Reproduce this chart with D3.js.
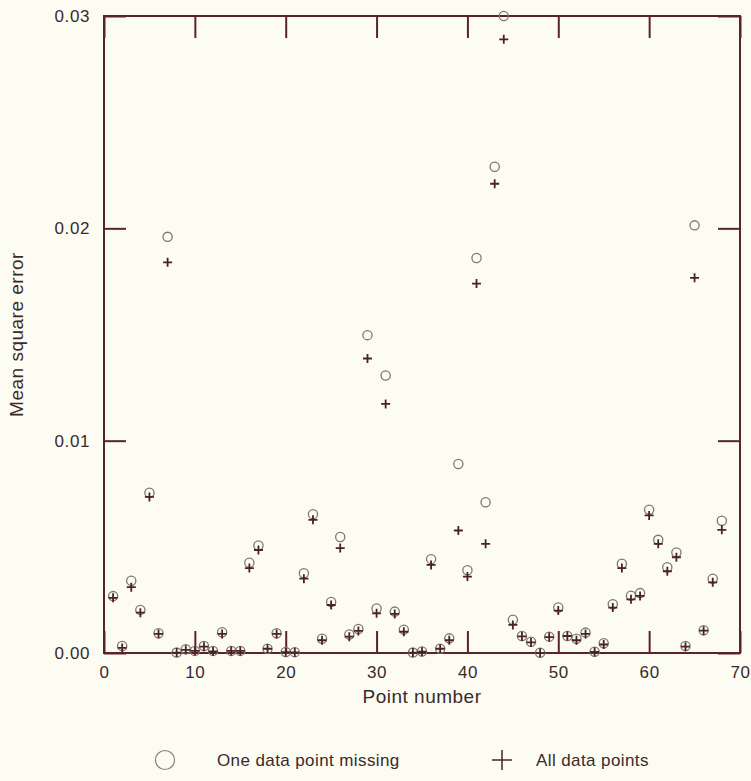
<!DOCTYPE html>
<html>
<head>
<meta charset="utf-8">
<script src="https://cdn.jsdelivr.net/npm/d3@7"></script>
<style>
  body { margin: 0; background: #fcfcf3; }
  svg { display: block; }
  text { font-family: "Liberation Sans", Arial, sans-serif; fill: #3a2a2a; }
</style>
</head>
<body>
<svg id="chart" width="751" height="781"></svg>
<script>
// point numbers 1..68
var pointNumber = d3.range(1, 69);

// mean square error with one data point missing (circles)
var oneMissing = [
  0.00268, 0.00033, 0.0034, 0.00203, 0.00755, 0.00093, 0.0196, 0.00002, 0.00018, 0.0001,
  0.00033, 0.0001, 0.00098, 0.0001, 0.0001, 0.00425, 0.00506, 0.0002, 0.00093, 0.00005,
  0.00004, 0.00376, 0.00654, 0.00067, 0.0024, 0.00546, 0.00087, 0.00113, 0.01497, 0.0021,
  0.01307, 0.00195, 0.0011, 0.00002, 0.00007, 0.00442, 0.0002, 0.00069, 0.0089, 0.0039,
  0.0186, 0.0071, 0.0229, 0.0300, 0.00157, 0.0008, 0.00053, 0.00001, 0.00077, 0.00214,
  0.0008, 0.00067, 0.00096, 0.00006, 0.00046, 0.0023, 0.0042, 0.0027, 0.00282, 0.00675,
  0.00533, 0.00404, 0.00473, 0.00033, 0.02014, 0.00107, 0.0035, 0.00623
];

// mean square error with all data points (crosses)
var allPoints = [
  0.0026, 0.00024, 0.0031, 0.0019, 0.00735, 0.0009, 0.0184, 0.00002, 0.00015, 0.0001,
  0.0003, 0.00008, 0.0009, 0.0001, 0.0001, 0.004, 0.00485, 0.0002, 0.0009, 0.00004,
  0.00003, 0.0035, 0.00627, 0.0006, 0.00226, 0.00494, 0.00077, 0.00104, 0.01387, 0.00187,
  0.01173, 0.00184, 0.001, 0.00002, 0.00006, 0.00415, 0.0002, 0.0006, 0.00577, 0.0036,
  0.0174, 0.00514, 0.0221, 0.0289, 0.00132, 0.00078, 0.0005, 0.00001, 0.00075, 0.002,
  0.0008, 0.0006, 0.0009, 0.00005, 0.0004, 0.00214, 0.004, 0.00253, 0.00269, 0.00648,
  0.00514, 0.00385, 0.00451, 0.0003, 0.01767, 0.00105, 0.00333, 0.0058
];

var xTicks = [0, 10, 20, 30, 40, 50, 60, 70];
var yTicks = [0, 0.01, 0.02, 0.03];

var axisColor = "#5a2427";
var svg = d3.select("#chart");

var plotLeft = 104, plotRight = 740, plotTop = 16, plotBottom = 653;

var x = d3.scaleLinear().domain([0, 70]).range([plotLeft, plotRight]);
var y = d3.scaleLinear().domain([0, 0.03]).range([plotBottom, plotTop]);

// axes (ticks pointing inward)
var gx = svg.append("g")
    .attr("transform", "translate(0," + plotBottom + ")")
    .call(d3.axisBottom(x).tickValues(xTicks).tickSize(-22).tickPadding(13).tickFormat(d3.format("d")));

var gxTop = svg.append("g")
    .attr("transform", "translate(0," + plotTop + ")")
    .call(d3.axisTop(x).tickValues(xTicks).tickSize(-22).tickFormat(""));

var gy = svg.append("g")
    .attr("transform", "translate(" + plotLeft + ",0)")
    .call(d3.axisLeft(y).tickValues(yTicks).tickSize(-22).tickPadding(14).tickFormat(d3.format(".2f")));

var gyRight = svg.append("g")
    .attr("transform", "translate(" + plotRight + ",0)")
    .call(d3.axisRight(y).tickValues(yTicks).tickSize(-22).tickFormat(""));

[gx, gxTop, gy, gyRight].forEach(function (g) {
    g.select(".domain").remove();
    g.selectAll(".tick line").attr("stroke", axisColor).attr("stroke-width", 2);
    g.selectAll(".tick text")
        .style("font-family", "'Liberation Sans', Arial, sans-serif")
        .style("font-size", "17px")
        .style("letter-spacing", "0.6px")
        .attr("fill", "#3a2a2a");
});

// frame
svg.append("rect")
    .attr("x", plotLeft).attr("y", plotTop)
    .attr("width", plotRight - plotLeft).attr("height", plotBottom - plotTop)
    .attr("fill", "none")
    .attr("stroke", axisColor)
    .attr("stroke-width", 2);

// axis titles
svg.append("text")
    .attr("x", (plotLeft + plotRight) / 2)
    .attr("y", 703)
    .attr("text-anchor", "middle")
    .style("font-size", "19px")
    .style("letter-spacing", "0.5px")
    .text("Point number");

svg.append("text")
    .attr("transform", "translate(23," + ((plotTop + plotBottom) / 2) + ") rotate(-90)")
    .attr("text-anchor", "middle")
    .style("font-size", "19px")
    .style("letter-spacing", "0.5px")
    .text("Mean square error");

// circles: one data point missing
svg.append("g").selectAll("circle")
    .data(pointNumber)
    .enter()
    .append("circle")
    .attr("cx", function (d, i) { return x(d); })
    .attr("cy", function (d, i) { return y(oneMissing[i]); })
    .attr("r", 4.6)
    .attr("fill", "none")
    .attr("stroke", "#7d7672")
    .attr("stroke-width", 1.3);

// crosses: all data points
var cross = "M-4.5,0H4.5M0,-4.5V4.5";
svg.append("g").selectAll("path")
    .data(pointNumber)
    .enter()
    .append("path")
    .attr("d", cross)
    .attr("transform", function (d, i) { return "translate(" + x(d) + "," + y(allPoints[i]) + ")"; })
    .attr("fill", "none")
    .attr("stroke", "#4a2224")
    .attr("stroke-width", 1.8);

// legend
var legendY = 760;
svg.append("circle")
    .attr("cx", 165).attr("cy", legendY).attr("r", 9.5)
    .attr("fill", "none").attr("stroke", "#8a8480").attr("stroke-width", 1.2);
svg.append("text")
    .attr("x", 217).attr("y", legendY + 6)
    .style("font-size", "17px")
    .style("letter-spacing", "0.4px")
    .attr("fill", "#4a3a3a")
    .text("One data point missing");
svg.append("path")
    .attr("d", "M-10,0H10M0,-10V10")
    .attr("transform", "translate(502," + legendY + ")")
    .attr("fill", "none").attr("stroke", "#4a2224").attr("stroke-width", 1.5);
svg.append("text")
    .attr("x", 536).attr("y", legendY + 6)
    .style("font-size", "17px")
    .style("letter-spacing", "0.4px")
    .attr("fill", "#4a3a3a")
    .text("All data points");
</script>
</body>
</html>
